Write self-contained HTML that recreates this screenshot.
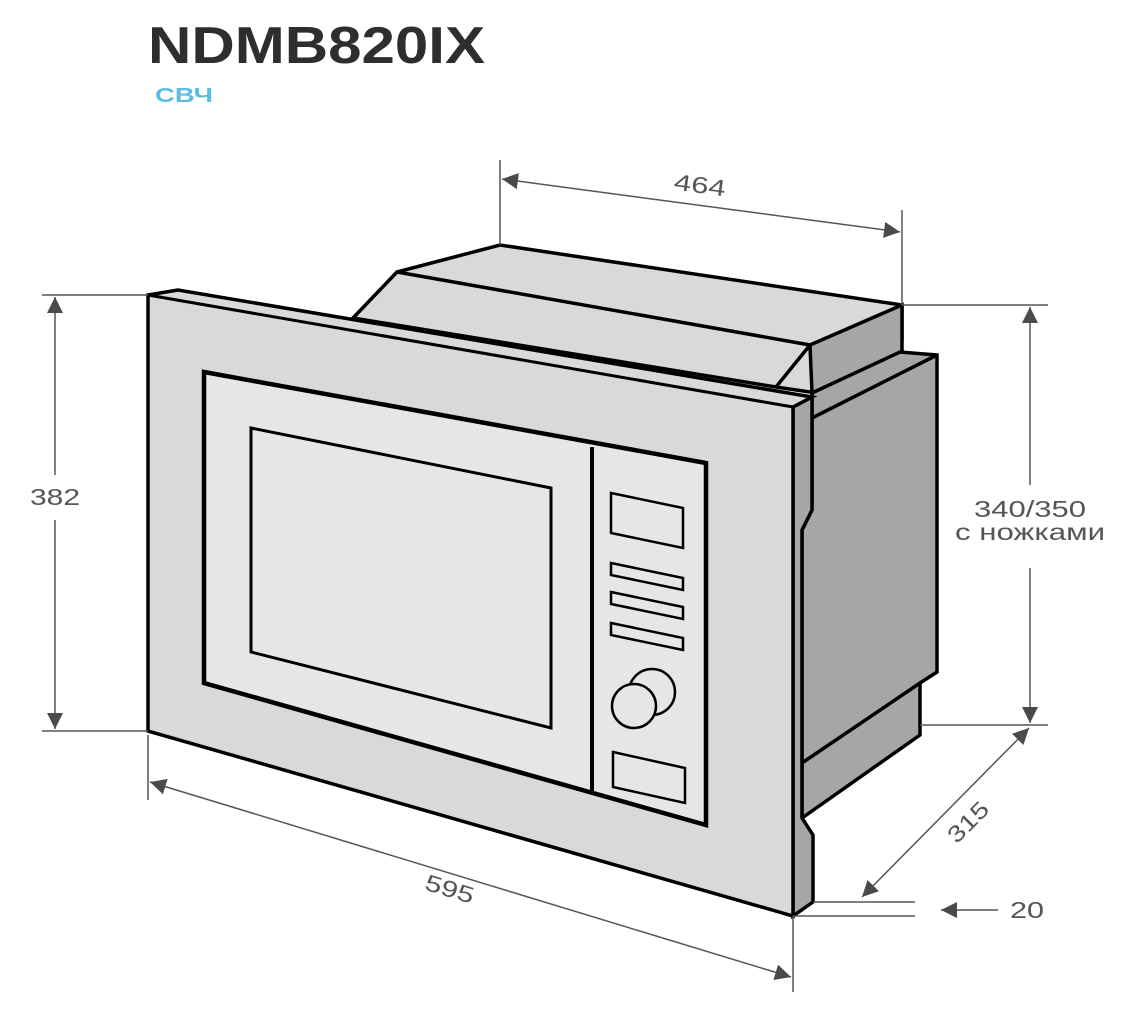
<!DOCTYPE html>
<html><head><meta charset="utf-8"><style>
html,body{margin:0;padding:0;background:#fff;}
svg{display:block;}
text{font-family:"Liberation Sans",sans-serif;}
</style></head><body>
<svg width="1127" height="1016" viewBox="0 0 1127 1016" xmlns="http://www.w3.org/2000/svg">
<defs>
<marker id="a" viewBox="0 0 10 10" refX="10" refY="5" markerWidth="16" markerHeight="16" markerUnits="userSpaceOnUse" orient="auto-start-reverse"><path d="M0,0L10,5L0,10z" fill="#4a4a4a"/></marker>
</defs>
<text x="148" y="63" font-size="52" fill="#2e2e2e" font-weight="bold" textLength="337" lengthAdjust="spacingAndGlyphs">NDMB820IX</text>
<text x="155" y="102" font-size="20" fill="#5bbde4" font-weight="bold" textLength="58" lengthAdjust="spacingAndGlyphs">СВЧ</text>

<g stroke="#000" stroke-width="3.5" stroke-linejoin="miter">
<polygon points="353,318 397,272 500,245 902,305 902,340 810,392 776,387" fill="#d9d9d9"/>
<line x1="397" y1="272" x2="810" y2="345"/>
<line x1="776" y1="387" x2="810" y2="345"/>
<polygon points="810,345 902,305 902,352 812,393" fill="#a6a7a4"/>
<polygon points="812,393 900,352 937,355 937,672 920,683 920,735 802,818 802,530 812,510" fill="#a6a7a4"/>
<line x1="812" y1="418" x2="937" y2="355"/>
<line x1="802" y1="763" x2="920" y2="683"/>
<polygon points="793,407 812,397 812,510 802,530 802,818 813,835 813,902 793,916" fill="#a6a7a4"/>
<polygon points="148,295 178,290 812,397 793,407 793,916 148,731" fill="#d9d9d9"/>
<line x1="148" y1="295" x2="793" y2="407" stroke-width="3"/>
<polygon points="204,372 706,463 706,825 204,683" fill="#e6e6e6" stroke-width="4.5"/>
<line x1="592" y1="447" x2="592" y2="793" stroke-width="4"/>
<polygon points="251,428 551,488 551,728 251,652" fill="#e6e6e6" stroke-width="3"/>
<g stroke-width="2.5" fill="none">
<polygon points="611,493 683,508 683,548 611,533"/>
<polygon points="611,563 683,578 683,590 611,575"/>
<polygon points="611,592 683,607 683,619 611,604"/>
<polygon points="611,623 683,638 683,650 611,635"/>
<circle cx="652" cy="692" r="23" fill="#e6e6e6"/>
<circle cx="634" cy="706" r="22" fill="#e6e6e6"/>
<polygon points="613,752 685,768 685,803 613,787"/>
</g>
</g>

<g stroke="#555" stroke-width="1.5" fill="none">
<line x1="500" y1="160" x2="500" y2="245"/>
<line x1="902" y1="210" x2="902" y2="305"/>
<line x1="502" y1="179" x2="900" y2="232" marker-start="url(#a)" marker-end="url(#a)"/>
<line x1="42" y1="295" x2="148" y2="295"/>
<line x1="42" y1="731" x2="148" y2="731"/>
<line x1="55" y1="297" x2="55" y2="475" marker-start="url(#a)"/>
<line x1="55" y1="520" x2="55" y2="729" marker-end="url(#a)"/>
<line x1="902" y1="305" x2="1048" y2="305"/>
<line x1="920" y1="725" x2="1048" y2="725"/>
<line x1="1030" y1="307" x2="1030" y2="485" marker-start="url(#a)"/>
<line x1="1030" y1="568" x2="1030" y2="723" marker-end="url(#a)"/>
<line x1="1029" y1="728" x2="862" y2="897" marker-start="url(#a)" marker-end="url(#a)"/>
<line x1="813" y1="902" x2="915" y2="902"/>
<line x1="793" y1="916" x2="915" y2="916"/>
<line x1="998" y1="910" x2="941" y2="910" marker-end="url(#a)"/>
<line x1="148" y1="735" x2="148" y2="800"/>
<line x1="793" y1="916" x2="793" y2="992"/>
<line x1="150" y1="782" x2="791" y2="977" marker-start="url(#a)" marker-end="url(#a)"/>
</g>
<g fill="#555" font-size="23">
<text x="700" y="193" text-anchor="middle" transform="rotate(7.5 700 185)" textLength="52" lengthAdjust="spacingAndGlyphs">464</text>
<text x="55" y="505" text-anchor="middle" textLength="50" lengthAdjust="spacingAndGlyphs">382</text>
<text x="1030" y="517" text-anchor="middle" textLength="112" lengthAdjust="spacingAndGlyphs">340/350</text>
<text x="1030" y="540" text-anchor="middle" textLength="150" lengthAdjust="spacingAndGlyphs">с ножками</text>
<text x="968" y="830" text-anchor="middle" transform="rotate(-45 968 822)" textLength="48" lengthAdjust="spacingAndGlyphs">315</text>
<text x="1027" y="918" text-anchor="middle" textLength="34" lengthAdjust="spacingAndGlyphs">20</text>
<text x="450" y="897" text-anchor="middle" transform="rotate(17 450 888)" textLength="50" lengthAdjust="spacingAndGlyphs">595</text>
</g>
</svg>
</body></html>
